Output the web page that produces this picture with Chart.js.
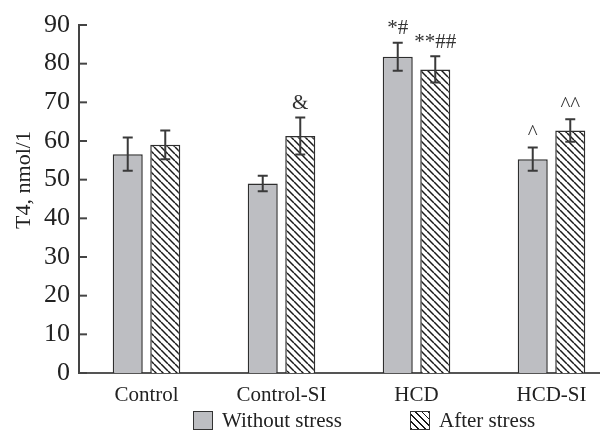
<!DOCTYPE html>
<html>
<head>
<meta charset="utf-8">
<script src="https://cdn.jsdelivr.net/npm/chart.js@4/dist/chart.umd.min.js"></script>
<style>
  html, body { margin: 0; padding: 0; background: #fff; overflow: hidden; }
  #wrap { position: relative; width: 600px; height: 430px; overflow: hidden; }
  #chart { position: absolute; left: 0; top: 0; }
  .leg-item { position: absolute; top: 408px; height: 24px; display: flex; align-items: center;
              font-family: 'Liberation Serif', serif; font-size: 21px; color: #222; white-space: nowrap; }
  .leg-box { width: 18px; height: 17px; border: 1.5px solid #333; margin-right: 9px; }
</style>
</head>
<body>
<div id="wrap">
  <canvas id="chart" width="620" height="430"></canvas>
  <div id="legend"></div>
</div>
<script>
// ── DATA ──────────────────────────────────────────
const categories   = ['Control', 'Control-SI', 'HCD', 'HCD-SI'];
const seriesNames  = ['Without stress', 'After stress'];
const withoutVals  = [56.6, 49.0, 81.8, 55.3];
const withoutErr   = [4.3, 2.0, 3.6, 3.0];
const afterVals    = [59.0, 61.3, 78.5, 62.7];
const afterErr     = [3.7, 4.8, 3.4, 2.9];
const withoutMarks = ['', '', '*#', '^'];
const afterMarks   = ['', '&', '**##', '^^'];
const yTitle       = 'T4, nmol/1';
const yMin = 0, yMax = 90, yStep = 10;

const SERIF = "'Liberation Serif', 'Times New Roman', serif";
const GREY  = '#bdbec2';
const EDGE  = '#2e2e2e';

// hatch "\\\" pattern
function makeHatch() {
  const s = 7;
  const c = document.createElement('canvas');
  c.width = s; c.height = s;
  const g = c.getContext('2d');
  g.fillStyle = '#fff';
  g.fillRect(0, 0, s, s);
  g.strokeStyle = '#1a1a1a';
  g.lineWidth = 1.5;
  for (const k of [-s, 0, s]) {
    g.beginPath();
    g.moveTo(k, 0);
    g.lineTo(k + s, s);
    g.stroke();
  }
  return c;
}
const ctx = document.getElementById('chart').getContext('2d');
const hatch = ctx.createPattern(makeHatch(), 'repeat');

// ── PLUGINS ───────────────────────────────────────
const errorBars = {
  id: 'errorBars',
  afterDatasetsDraw(chart) {
    const c = chart.ctx, y = chart.scales.y;
    const errs = [withoutErr, afterErr];
    const vals = [withoutVals, afterVals];
    const marks = [withoutMarks, afterMarks];
    c.save();
    chart.data.datasets.forEach((ds, di) => {
      chart.getDatasetMeta(di).data.forEach((bar, i) => {
        const top = y.getPixelForValue(vals[di][i] + errs[di][i]);
        const bot = y.getPixelForValue(vals[di][i] - errs[di][i]);
        c.strokeStyle = '#3a3a3a';
        c.lineWidth = 2;
        c.beginPath();
        c.moveTo(bar.x, top); c.lineTo(bar.x, bot);
        c.moveTo(bar.x - 5, top); c.lineTo(bar.x + 5, top);
        c.moveTo(bar.x - 5, bot); c.lineTo(bar.x + 5, bot);
        c.stroke();
        const m = marks[di][i];
        if (m) {
          c.fillStyle = '#333';
          c.font = '21px ' + SERIF;
          c.textAlign = 'center';
          c.textBaseline = 'middle';
          c.fillText(m, bar.x, top - 14);
        }
      });
    });
    c.restore();
  }
};

const axisExtras = {
  id: 'axisExtras',
  afterDraw(chart) {
    const c = chart.ctx, y = chart.scales.y, area = chart.chartArea;
    c.save();
    // inward tick marks
    c.strokeStyle = '#444';
    c.lineWidth = 2;
    y.ticks.forEach(t => {
      const py = y.getPixelForValue(t.value);
      c.beginPath();
      c.moveTo(area.left, py);
      c.lineTo(area.left + 8, py);
      c.stroke();
    });
    // y title
    c.fillStyle = '#222';
    c.font = '22px ' + SERIF;
    c.textAlign = 'center';
    c.textBaseline = 'middle';
    c.translate(24, 180);
    c.rotate(-Math.PI / 2);
    c.fillText(yTitle, 0, 0);
    c.restore();
  }
};

// ── CHART ─────────────────────────────────────────
new Chart(ctx, {
  type: 'bar',
  data: {
    labels: categories,
    datasets: [
      {
        label: seriesNames[0],
        data: withoutVals,
        backgroundColor: GREY,
        borderColor: EDGE,
        borderWidth: 1.5,
        categoryPercentage: 0.556,
        barPercentage: 0.8,
      },
      {
        label: seriesNames[1],
        data: afterVals,
        backgroundColor: hatch,
        borderColor: EDGE,
        borderWidth: 1.5,
        categoryPercentage: 0.556,
        barPercentage: 0.8,
      },
    ],
  },
  options: {
    responsive: false,
    animation: false,
    layout: { padding: { top: 25, right: 1, left: 0, bottom: 0 } },
    plugins: { legend: { display: false }, tooltip: { enabled: false } },
    scales: {
      x: {
        grid: { display: false, drawTicks: false },
        border: { display: true, color: '#555', width: 2 },
        ticks: { color: '#222', padding: 10, font: { family: SERIF, size: 21 } },
        afterFit: s => { s.height = 57; },
      },
      y: {
        min: yMin,
        max: yMax,
        grid: { display: false, drawTicks: false },
        border: { display: true, color: '#444', width: 2 },
        ticks: { stepSize: yStep, color: '#222', padding: 9, font: { family: SERIF, size: 26 } },
        afterFit: s => { s.width = 79; },
      },
    },
  },
  plugins: [errorBars, axisExtras],
});

// ── LEGEND (html) ─────────────────────────────────
const legend = document.getElementById('legend');
const legendLeft = [193, 410];
seriesNames.forEach((name, i) => {
  const item = document.createElement('div');
  item.className = 'leg-item';
  item.style.left = legendLeft[i] + 'px';
  const box = document.createElement('span');
  box.className = 'leg-box';
  box.style.background = i === 0
    ? GREY
    : 'repeating-linear-gradient(45deg, #1a1a1a 0 1.2px, #fff 1.2px 4.8px)';
  const txt = document.createElement('span');
  txt.textContent = name;
  item.appendChild(box);
  item.appendChild(txt);
  legend.appendChild(item);
});
</script>
</body>
</html>
